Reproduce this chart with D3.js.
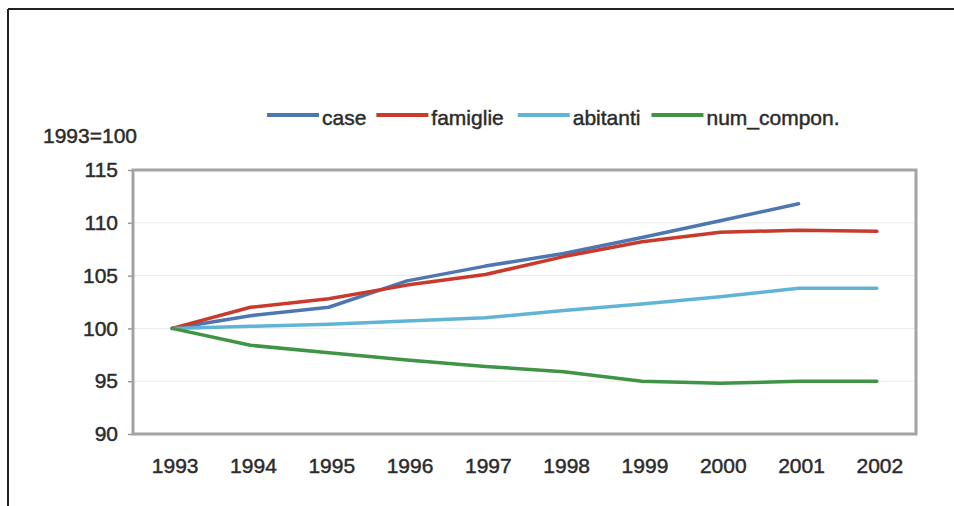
<!DOCTYPE html>
<html>
<head>
<meta charset="utf-8">
<script src="https://cdn.jsdelivr.net/npm/d3@7"></script>
<style>
  html, body { margin: 0; padding: 0; background: #fff; }
  svg { display: block; }
  text { font-family: "Liberation Sans", Arial, sans-serif; fill: #2b2b2b; stroke: #2b2b2b; stroke-width: 0.45px; }
</style>
</head>
<body>
<svg id="chart" width="954" height="506"></svg>
<script>
const years = ["1993","1994","1995","1996","1997","1998","1999","2000","2001","2002"];
const seriesNames = ["case","famiglie","abitanti","num_compon."];
const seriesColors = ["#4e76b0","#c83a2c","#62b4d6","#3f9446"];
const caseValues     = [100, 101.2, 102.0, 104.5, 105.9, 107.1, 108.6, 110.2, 111.8, null];
const famiglieValues = [100, 102.0, 102.8, 104.1, 105.1, 106.8, 108.2, 109.1, 109.3, 109.2];
const abitantiValues = [100, 100.2, 100.4, 100.7, 101.0, 101.7, 102.3, 103.0, 103.8, 103.8];
const numComponValues= [100, 98.4, 97.7, 97.0, 96.4, 95.9, 95.0, 94.8, 95.0, 95.0];
const yTicks = [90, 95, 100, 105, 110, 115];
const yLabel = "1993=100";

const allValues = [caseValues, famiglieValues, abitantiValues, numComponValues];

const svg = d3.select("#chart");
const plot = {left: 133, right: 916, top: 170, bottom: 434};

// outer border (top and left)
svg.append("line").attr("x1", 8).attr("x2", 954).attr("y1", 9).attr("y2", 9)
  .attr("stroke", "#222").attr("stroke-width", 2);
svg.append("line").attr("x1", 8).attr("x2", 8).attr("y1", 9).attr("y2", 506)
  .attr("stroke", "#222").attr("stroke-width", 2);

const x = d3.scaleBand().domain(years).range([plot.left, plot.right]);
const xc = d => x(d) + x.bandwidth() / 2;
const y = d3.scaleLinear().domain([90, 115]).range([plot.bottom, plot.top]);

// gridlines
svg.append("g").selectAll("line").data(yTicks.filter(t => t > 90 && t < 115)).join("line")
  .attr("x1", plot.left).attr("x2", plot.right)
  .attr("y1", d => y(d)).attr("y2", d => y(d))
  .attr("stroke", "#ebebeb").attr("stroke-width", 1);

// y axis
const yAxis = svg.append("g").attr("transform", `translate(${plot.left},0)`)
  .call(d3.axisLeft(y).tickValues(yTicks).tickSize(5).tickPadding(10));
yAxis.select(".domain").remove();
yAxis.selectAll(".tick line").attr("stroke", "#999").attr("stroke-width", 1.5);
yAxis.selectAll(".tick text").attr("font-size", 21).attr("fill", "#2b2b2b")
  .attr("font-family", "Liberation Sans, Arial, sans-serif");

// x axis labels
const xAxis = svg.append("g").attr("transform", `translate(3,${plot.bottom})`)
  .call(d3.axisBottom(x).tickSize(0).tickPadding(24));
xAxis.select(".domain").remove();
xAxis.selectAll(".tick text").attr("font-size", 21).attr("fill", "#2b2b2b")
  .attr("font-family", "Liberation Sans, Arial, sans-serif");

// plot frame
svg.append("rect").attr("x", plot.left).attr("y", plot.top)
  .attr("width", plot.right - plot.left).attr("height", plot.bottom - plot.top)
  .attr("fill", "none").attr("stroke", "#a3a3a3").attr("stroke-width", 3);

// y label
svg.append("text").attr("x", 43).attr("y", 143).attr("font-size", 21).text(yLabel);

// lines
const line = d3.line().defined(d => d.v != null).x(d => xc(d.year)).y(d => y(d.v));
allValues.forEach((vals, i) => {
  const pts = years.map((yr, j) => ({year: yr, v: vals[j]}));
  svg.append("path").datum(pts).attr("d", line)
    .attr("fill", "none").attr("stroke", seriesColors[i])
    .attr("stroke-width", 3.5).attr("stroke-linejoin", "round").attr("stroke-linecap", "round");
});

// legend
let lx = 267;
const gaps = [10, 14, 11, 0];
seriesNames.forEach((name, i) => {
  svg.append("line").attr("x1", lx).attr("x2", lx + 52).attr("y1", 115).attr("y2", 115)
    .attr("stroke", seriesColors[i]).attr("stroke-width", 4);
  const t = svg.append("text").attr("x", lx + 55).attr("y", 125).attr("font-size", 21).text(name);
  lx = lx + 55 + t.node().getComputedTextLength() + gaps[i];
});
</script>
</body>
</html>
